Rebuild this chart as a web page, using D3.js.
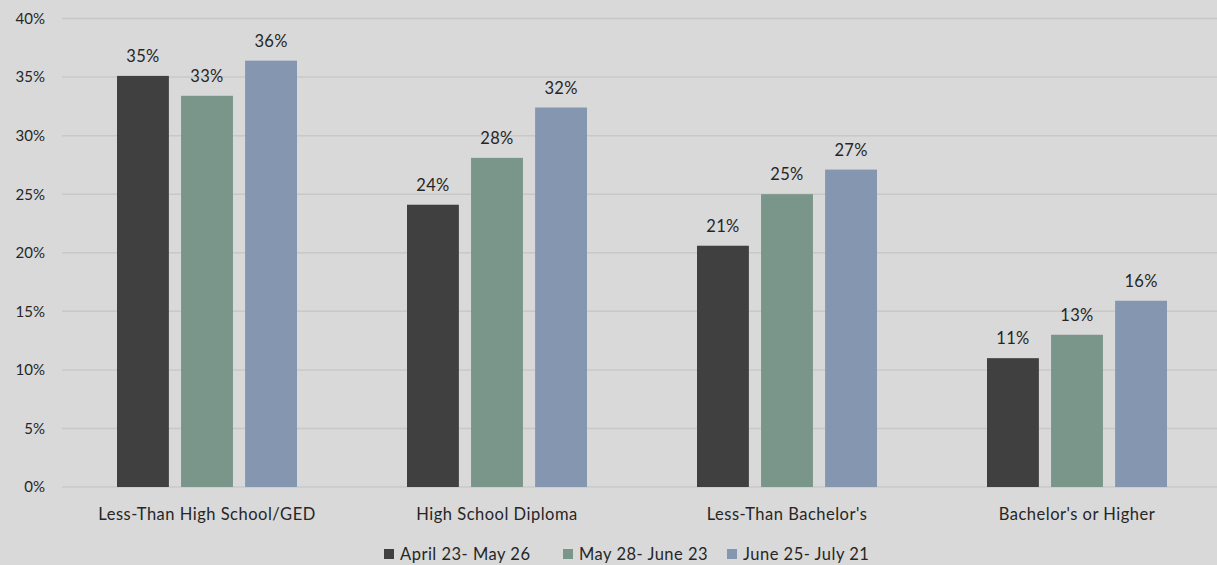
<!DOCTYPE html>
<html>
<head>
<meta charset="utf-8">
<script src="https://cdn.jsdelivr.net/npm/d3@7"></script>
<style>
  html, body { margin: 0; padding: 0; background: #d9d9d9; }
  svg { display: block; }
  text { font-family: Lato, "Open Sans", sans-serif; }
</style>
</head>
<body>
<svg id="chart" width="1217" height="565"></svg>
<script>
// Share of respondents by education level, across three survey periods
const categories = ["Less-Than High School/GED", "High School Diploma", "Less-Than Bachelor's", "Bachelor's or Higher"];
const seriesNames = ["April 23- May 26", "May 28- June 23", "June 25- July 21"];
const aprilMay = [35.1, 24.1, 20.6, 11.0];
const mayJune = [33.4, 28.1, 25.0, 13.0];
const juneJuly = [36.4, 32.4, 27.1, 15.9];
const yTicks = [0, 5, 10, 15, 20, 25, 30, 35, 40];

const seriesValues = [aprilMay, mayJune, juneJuly];
const colors = ["#404040", "#7a9589", "#8496b0"];

const W = 1217, H = 565;
const margin = { left: 62, right: -5, top: 18.5, bottom: 78 };
const svg = d3.select("#chart");

const x0 = d3.scaleBand()
  .domain(categories)
  .range([margin.left, W - margin.right])
  .paddingInner(0)
  .paddingOuter(0);

// Bars within a category occupy the middle of the band
const x1 = d3.scaleBand()
  .domain(seriesNames)
  .range([55, 235])
  .paddingInner(0.19)
  .paddingOuter(0);

const y = d3.scaleLinear()
  .domain([0, 40])
  .range([H - margin.bottom, margin.top]);

// Gridlines
svg.append("g")
  .selectAll("line")
  .data(yTicks)
  .join("line")
  .attr("x1", margin.left)
  .attr("x2", W)
  .attr("y1", d => y(d))
  .attr("y2", d => y(d))
  .attr("stroke", "#c8c8c8")
  .attr("stroke-width", 1.5);

// Y axis labels
const yAxis = d3.axisLeft(y)
  .tickValues(yTicks)
  .tickFormat(d => d + "%")
  .tickSize(0)
  .tickPadding(0);
svg.append("g")
  .attr("transform", `translate(45,0)`)
  .call(yAxis)
  .call(g => g.select(".domain").remove())
  .selectAll("text")
  .attr("font-size", 15)
  .attr("fill", "#262626")
  .attr("font-family", "Lato, 'Open Sans', sans-serif");

// Bars
const rows = categories.map((c, i) => ({
  category: c,
  values: seriesNames.map((s, j) => ({ series: s, idx: j, value: seriesValues[j][i] }))
}));

const groups = svg.append("g")
  .selectAll("g")
  .data(rows)
  .join("g")
  .attr("transform", d => `translate(${x0(d.category)},0)`);

groups.selectAll("rect")
  .data(d => d.values)
  .join("rect")
  .attr("x", d => x1(d.series))
  .attr("width", x1.bandwidth())
  .attr("y", d => y(d.value))
  .attr("height", d => y(0) - y(d.value))
  .attr("fill", d => colors[d.idx]);

groups.selectAll("text.val")
  .data(d => d.values)
  .join("text")
  .attr("class", "val")
  .attr("x", d => x1(d.series) + x1.bandwidth() / 2)
  .attr("y", d => y(d.value) - 14)
  .attr("text-anchor", "middle")
  .attr("font-size", 16.5)
  .attr("letter-spacing", 0.3)
  .attr("fill", "#262626")
  .text(d => Math.round(d.value) + "%");

// Category axis
const xAxis = d3.axisBottom(x0).tickSize(0).tickPadding(0);
svg.append("g")
  .attr("transform", `translate(0,${y(0) + 21})`)
  .call(xAxis)
  .call(g => g.select(".domain").remove())
  .selectAll("text")
  .attr("font-size", 16.5)
  .attr("letter-spacing", 0.5)
  .attr("fill", "#262626")
  .attr("font-family", "Lato, 'Open Sans', sans-serif");

// Legend
const legendX = [384, 563, 727];
const legend = svg.append("g")
  .selectAll("g")
  .data(seriesNames)
  .join("g")
  .attr("transform", (d, i) => `translate(${legendX[i]},549)`);
legend.append("rect")
  .attr("width", 10)
  .attr("height", 10)
  .attr("fill", (d, i) => colors[i]);
legend.append("text")
  .attr("x", 16)
  .attr("y", 11)
  .attr("font-size", 16.5)
  .attr("letter-spacing", 0.5)
  .attr("fill", "#262626")
  .text(d => d);
</script>
</body>
</html>
